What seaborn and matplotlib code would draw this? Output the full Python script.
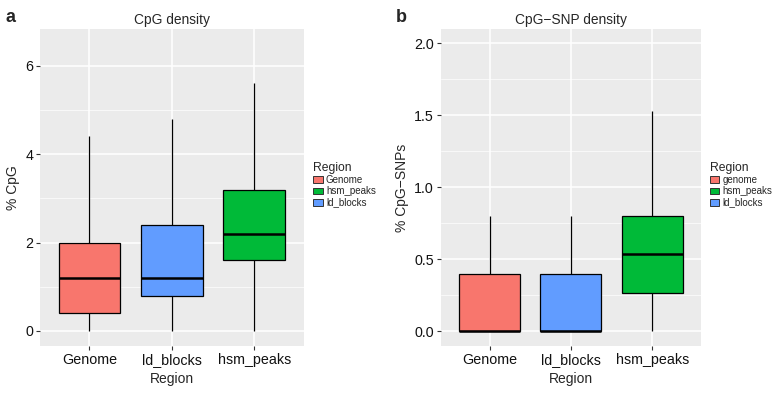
import numpy as np
import pandas as pd
import matplotlib
matplotlib.use("Agg")
import matplotlib.pyplot as plt
from matplotlib.patches import Patch
import seaborn as sns

# box summaries: min, q1, median, q3, max
regions = ["Genome", "ld_blocks", "hsm_peaks"]
cpg_genome = [0.0, 0.40, 1.20, 2.00, 4.40]
cpg_ld = [0.0, 0.80, 1.20, 2.40, 4.80]
cpg_hsm = [0.0, 1.60, 2.20, 3.20, 5.60]
snp_genome = [0.0, 0.0, 0.0, 0.40, 0.80]
snp_ld = [0.0, 0.0, 0.0, 0.40, 0.80]
snp_hsm = [0.0, 0.265, 0.535, 0.80, 1.53]

colors = {"Genome": "#F8766D", "ld_blocks": "#619CFF", "hsm_peaks": "#00BA38"}
legend_a = ["Genome", "hsm_peaks", "ld_blocks"]
legend_b = ["genome", "hsm_peaks", "ld_blocks"]


def long_df(vals):
    rows = []
    for name, v in zip(regions, vals):
        rows += [(name, x) for x in v]
    return pd.DataFrame(rows, columns=["Region", "value"])


sns.set_theme(style="darkgrid")
plt.rcParams["font.family"] = ["Liberation Sans", "DejaVu Sans"]

fig = plt.figure(figsize=(7.77, 3.93), dpi=100)
ax_a = fig.add_axes([0.0515, 0.1196, 0.3395, 0.8064])
ax_b = fig.add_axes([0.5676, 0.1196, 0.3344, 0.8064])


def draw(ax, df, ylim, yticks, yminor, fmt, title, ylabel):
    ax.set_facecolor("#EBEBEB")
    sns.boxplot(data=df, x="Region", y="value", hue="Region", order=regions,
                palette=colors, whis=(0, 100), width=0.75, saturation=1,
                showcaps=False, linecolor="black", linewidth=0.9,
                medianprops={"linewidth": 1.8, "color": "black"},
                whiskerprops={"linewidth": 0.9}, legend=False, ax=ax, zorder=3)
    ax.set_ylim(*ylim)
    ax.set_xlim(-0.6, 2.6)
    ax.set_yticks(yticks)
    ax.set_yticklabels([fmt.format(t) for t in yticks])
    ax.set_yticks(yminor, minor=True)
    ax.grid(True, which="major", color="white", linewidth=1.1, zorder=0)
    ax.grid(True, which="minor", axis="y", color="white", linewidth=0.5, zorder=0)
    ax.set_axisbelow(True)
    for s in ax.spines.values():
        s.set_visible(False)
    ax.tick_params(axis="both", which="major", length=3, width=0.8, color="#333333",
                   labelsize=10.3, labelcolor="#111111", pad=2, left=True, bottom=True)
    ax.tick_params(axis="y", which="minor", length=0)
    ax.set_xlabel("Region", fontsize=10, labelpad=4)
    ax.set_ylabel(ylabel, fontsize=10, labelpad=4)
    ax.set_title(title, fontsize=9.9, pad=4)


draw(ax_a, long_df([cpg_genome, cpg_ld, cpg_hsm]), (-0.34, 6.83),
     [0, 2, 4, 6], [1, 3, 5], "{:g}", "CpG density", "% CpG")
draw(ax_b, long_df([snp_genome, snp_ld, snp_hsm]), (-0.104, 2.10),
     [0, 0.5, 1.0, 1.5, 2.0], [0.25, 0.75, 1.25, 1.75], "{:.1f}",
     "CpG\u2212SNP density", "% CpG\u2212SNPs")

fig.text(0.007, 0.978, "a", fontsize=13, fontweight="bold", va="top")
fig.text(0.509, 0.978, "b", fontsize=13, fontweight="bold", va="top")

for labels, xpos in [(legend_a, 0.397), (legend_b, 0.907)]:
    handles = [Patch(facecolor=colors[k if k != "genome" else "Genome"],
                     edgecolor="#333333", linewidth=0.7) for k in labels]
    fig.legend(handles, labels, title="Region", loc="upper left",
               bbox_to_anchor=(xpos, 0.6), frameon=False, fontsize=7,
               title_fontsize=8.7, handlelength=1.0, handleheight=0.7,
               handletextpad=0.3, labelspacing=0.12, borderpad=0,
               alignment="left")

fig.savefig("out.png", dpi=100)
